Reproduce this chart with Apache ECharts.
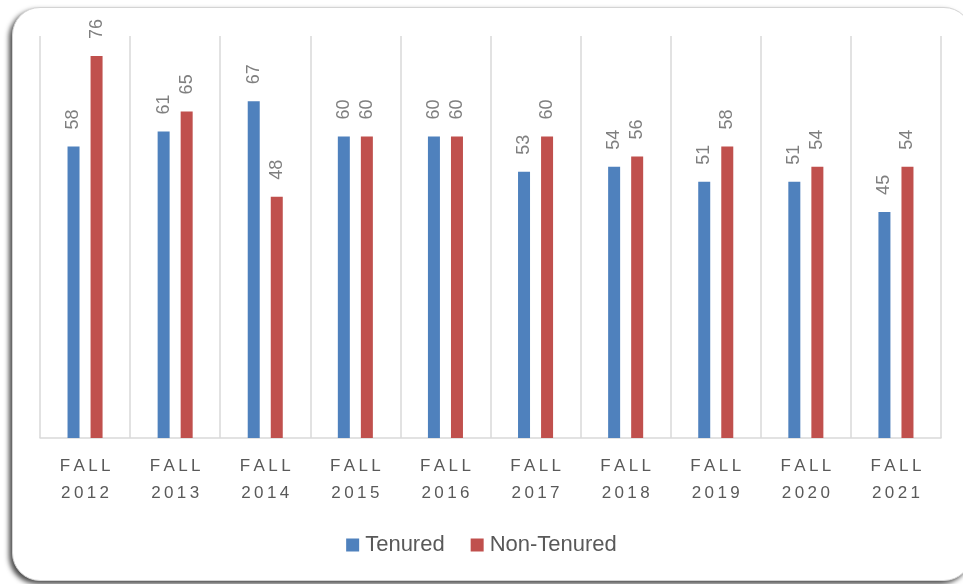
<!DOCTYPE html>
<html><head><meta charset="utf-8">
<script src="https://cdn.jsdelivr.net/npm/echarts@6/dist/echarts.min.js"></script>
<style>
html,body{margin:0;padding:0;width:963px;height:584px;overflow:hidden;background:#fff;}
#frame{position:absolute;left:12px;top:7px;width:960px;height:574px;border:1px solid #d4d4d4;border-radius:28px;box-shadow:-3px 3px 5px rgba(0,0,0,0.7);background:#fff;box-sizing:border-box;}
#chart{position:absolute;left:0;top:0;width:963px;height:584px;}
</style></head>
<body>
<div id="frame"></div>
<div id="chart"></div>
<script>
const categories = ['FALL 2012','FALL 2013','FALL 2014','FALL 2015','FALL 2016','FALL 2017','FALL 2018','FALL 2019','FALL 2020','FALL 2021'];
const tenured = [58,61,67,60,60,53,54,51,51,45];
const nonTenured = [76,65,48,60,60,60,56,58,54,54];
const seriesNames = ['Tenured','Non-Tenured'];

function spaced(s){ return s.split('').join('\u2009'); }

const chart = echarts.init(document.getElementById('chart'));
const labelCfg = {show:true, position:'top', rotate:90, align:'left', verticalAlign:'middle', distance:17, color:'#7f7f7f', fontSize:18, fontFamily:'Liberation Sans, sans-serif'};
chart.setOption({
  animation:false,
  backgroundColor:'transparent',
  grid:{left:40, right:22, top:36, bottom:146},
  legend:{bottom:23, left:'center', itemWidth:13, itemHeight:13, itemGap:26, icon:'rect',
    textStyle:{fontSize:22, color:'#595959', fontFamily:'Liberation Sans, sans-serif', padding:[0,0,0,1]}, data:seriesNames},
  xAxis:{type:'category', data:categories,
    axisLine:{show:true, lineStyle:{color:'#d9d9d9', width:1.5}},
    axisTick:{show:false},
    splitLine:{show:true, lineStyle:{color:'#d9d9d9', width:1.5}},
    axisLabel:{margin:15, lineHeight:27, fontSize:17, color:'#595959', fontFamily:'Liberation Sans, sans-serif',
      formatter:function(v){ const p=v.split(' '); return spaced(p[0])+'\n'+spaced(p[1]); }}
  },
  yAxis:{type:'value', min:0, max:80, show:false, splitLine:{show:false}},
  series:[
    {name:seriesNames[0], type:'bar', data:tenured, barWidth:12, barGap:'92%', itemStyle:{color:'#4F81BD'}, label:labelCfg},
    {name:seriesNames[1], type:'bar', data:nonTenured, barWidth:12, barGap:'92%', itemStyle:{color:'#C0504D'}, label:labelCfg}
  ]
});
</script>
</body></html>
